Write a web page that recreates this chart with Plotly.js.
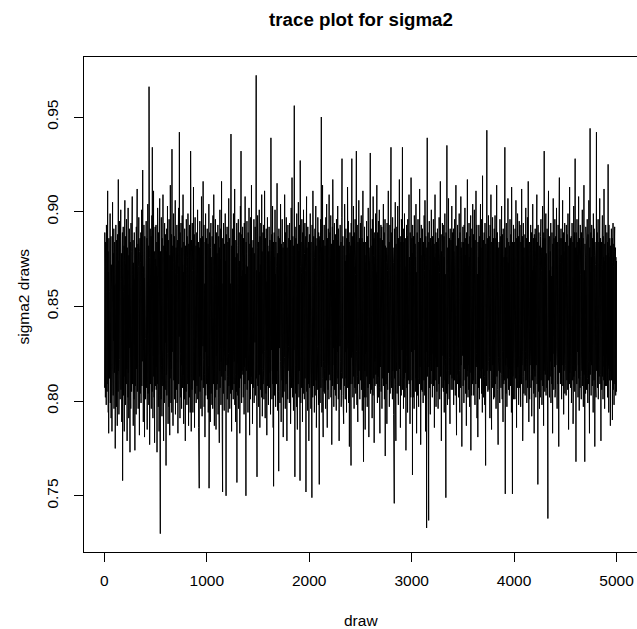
<!DOCTYPE html>
<html>
<head>
<meta charset="utf-8">
<script src="https://cdn.plot.ly/plotly-3.0.1.min.js"></script>
<style>
  html, body { margin: 0; padding: 0; background: #fff; }
  #chart { width: 637px; height: 629px; }
</style>
</head>
<body>
<div id="chart"></div>
<script>
// Posterior draws of sigma2, kept every 2nd iteration (25 values = 50 draws per row)
const sigma2 = [
.807,.889,.823,.871,.802,.884,.836,.866,.798,.893,.819,.874,.805,.861,.832,.911,.809,.879,.794,.868,.783,.886,.821,.858,.812,
.876,.816,.899,.799,.864,.828,.887,.791,.872,.823,.859,.784,.882,.811,.905,.818,.866,.803,.878,.832,.891,.796,.861,.815,.884,
.831,.868,.775,.879,.808,.893,.826,.862,.797,.885,.814,.871,.787,.888,.829,.857,.805,.917,.816,.874,.793,.866,.822,.895,.808,
.869,.801,.884,.819,.901,.806,.863,.824,.878,.789,.871,.812,.889,.758,.866,.827,.892,.803,.858,.816,.882,.784,.874,.821,.906,
.813,.861,.798,.887,.825,.872,.809,.896,.817,.864,.779,.881,.833,.869,.802,.902,.815,.856,.791,.877,.828,.891,.807,.866,.773,
.884,.819,.871,.796,.894,.828,.862,.805,.879,.816,.908,.809,.867,.824,.885,.787,.873,.831,.859,.801,.889,.813,.876,.774,.864,
.808,.881,.822,.869,.793,.892,.817,.874,.832,.912,.805,.866,.819,.883,.796,.871,.828,.897,.812,.858,.782,.879,.826,.886,.804,
.873,.814,.889,.799,.862,.825,.901,.808,.877,.821,.868,.922,.816,.884,.789,.871,.827,.893,.802,.865,.781,.887,.818,.874,.833,
.801,.878,.822,.895,.807,.869,.829,.886,.785,.873,.816,.904,.804,.863,.825,.882,.798,.966,.814,.876,.777,.868,.823,.891,.809,
.862,.819,.887,.796,.874,.828,.898,.805,.934,.817,.869,.791,.884,.824,.911,.813,.866,.802,.879,.778,.857,.826,.892,.808,.875,
.818,.893,.806,.871,.831,.884,.773,.866,.809,.902,.822,.875,.797,.889,.816,.861,.784,.881,.827,.907,.803,.868,.730,.879,.824,
.872,.801,.897,.819,.864,.792,.886,.827,.876,.808,.909,.815,.867,.779,.882,.823,.871,.799,.894,.817,.858,.806,.888,.831,.865,
.766,.879,.814,.891,.803,.868,.825,.903,.809,.874,.788,.885,.819,.862,.797,.896,.828,.871,.782,.877,.812,.914,.821,.866,.799,
.876,.817,.888,.794,.933,.826,.869,.804,.882,.787,.873,.823,.899,.811,.864,.835,.887,.801,.878,.819,.906,.793,.868,.826,.881,
.806,.874,.828,.893,.799,.867,.816,.885,.783,.879,.821,.902,.809,.871,.834,.942,.813,.866,.791,.889,.825,.877,.802,.894,.817,
.863,.796,.881,.819,.898,.807,.872,.826,.909,.814,.868,.788,.884,.822,.875,.801,.891,.816,.861,.779,.882,.829,.869,.805,.896,
.812,.871,.798,.887,.824,.876,.809,.899,.817,.864,.787,.883,.828,.871,.802,.893,.815,.868,.794,.879,.932,.821,.873,.784,.885,
.827,.879,.806,.894,.816,.869,.794,.885,.823,.913,.811,.872,.829,.888,.786,.866,.818,.897,.804,.876,.825,.882,.799,.868,.833,
.889,.808,.876,.822,.901,.801,.867,.816,.884,.786,.873,.827,.754,.881,.813,.895,.805,.869,.824,.886,.796,.877,.819,.908,.811,
.864,.792,.887,.818,.874,.829,.916,.807,.869,.822,.893,.797,.878,.814,.862,.781,.884,.826,.899,.803,.871,.817,.886,.809,.875,
.816,.891,.801,.868,.825,.883,.794,.877,.819,.904,.754,.872,.808,.889,.827,.866,.789,.881,.813,.894,.804,.876,.831,.863,.798,
.887,.814,.871,.796,.898,.823,.864,.809,.909,.817,.875,.787,.883,.828,.869,.802,.896,.819,.872,.785,.861,.824,.889,.806,.878,
.809,.866,.819,.893,.793,.879,.826,.887,.802,.872,.778,.881,.816,.901,.807,.868,.828,.891,.798,.875,.821,.916,.813,.862,.792,
.879,.752,.886,.817,.869,.804,.894,.823,.871,.795,.883,.828,.862,.811,.899,.816,.874,.831,.750,.888,.807,.867,.819,.892,.801,
.868,.813,.884,.794,.876,.825,.907,.808,.871,.819,.886,.796,.879,.827,.862,.804,.893,.941,.816,.874,.784,.882,.823,.869,.806,
.891,.818,.873,.801,.899,.826,.864,.809,.887,.821,.912,.798,.876,.814,.868,.789,.885,.829,.871,.805,.894,.757,.878,.819,.866,
.803,.882,.817,.896,.796,.871,.828,.889,.807,.874,.783,.868,.821,.903,.812,.879,.932,.824,.866,.799,.888,.816,.873,.831,.892,
.814,.869,.802,.886,.825,.877,.793,.894,.818,.872,.809,.908,.823,.867,.792,.750,.884,.816,.878,.829,.895,.806,.871,.821,.863,
.794,.889,.811,.874,.827,.902,.805,.869,.782,.883,.819,.876,.801,.897,.824,.866,.813,.914,.809,.872,.826,.881,.788,.868,.817,
.885,.807,.871,.822,.896,.799,.878,.816,.864,.831,.892,.803,.875,.818,.887,.972,.812,.869,.797,.760,.881,.825,.898,.808,.873,
.819,.884,.797,.876,.829,.901,.814,.868,.786,.887,.821,.872,.806,.894,.818,.863,.802,.909,.825,.879,.792,.871,.817,.889,.809,
.868,.816,.893,.801,.877,.826,.911,.812,.874,.791,.886,.821,.869,.804,.891,.818,.876,.782,.863,.827,.897,.808,.882,.823,.871,
.798,.879,.815,.892,.824,.866,.807,.885,.819,.874,.793,.896,.939,.813,.871,.827,.888,.801,.879,.816,.903,.809,.868,.786,.884,
.755,.873,.818,.889,.803,.876,.826,.901,.811,.867,.797,.884,.822,.871,.809,.894,.829,.915,.816,.878,.795,.866,.819,.887,.805,
.763,.891,.816,.872,.828,.886,.799,.879,.821,.904,.808,.868,.789,.883,.825,.874,.811,.896,.802,.869,.826,.881,.781,.877,.819,
.884,.805,.872,.823,.909,.814,.868,.796,.889,.827,.876,.809,.897,.818,.863,.779,.881,.822,.874,.801,.893,.816,.871,.829,.886,
.811,.867,.799,.894,.821,.878,.813,.885,.788,.873,.826,.902,.807,.876,.819,.918,.824,.869,.802,.887,.816,.871,.795,.882,.827,
.873,.956,.808,.881,.760,.892,.819,.868,.804,.886,.823,.877,.797,.899,.814,.866,.785,.883,.826,.874,.809,.905,.818,.869,.802,
.879,.816,.893,.827,.758,.927,.811,.871,.799,.884,.822,.868,.807,.896,.817,.875,.789,.889,.825,.872,.804,.901,.813,.866,.828,
.801,.878,.821,.894,.812,.869,.828,.887,.752,.874,.816,.908,.805,.881,.823,.867,.795,.892,.819,.876,.809,.884,.779,.871,.826,
.888,.807,.873,.824,.899,.813,.868,.796,.884,.819,.876,.828,.749,.893,.815,.871,.802,.911,.821,.866,.808,.887,.826,.874,.794,
.876,.819,.891,.803,.869,.827,.903,.811,.882,.786,.874,.822,.886,.806,.867,.829,.897,.816,.878,.798,.889,.814,.871,.756,.884,
.813,.887,.799,.874,.826,.896,.807,.869,.950,.818,.881,.794,.873,.824,.914,.812,.868,.781,.885,.821,.876,.805,.893,.817,.866,
.804,.882,.819,.871,.796,.897,.823,.876,.811,.904,.816,.868,.786,.886,.828,.872,.806,.891,.819,.879,.801,.909,.814,.867,.825,
.889,.811,.874,.826,.898,.802,.869,.817,.883,.777,.876,.821,.892,.808,.917,.816,.871,.828,.885,.797,.878,.819,.894,.806,.863,
.817,.879,.803,.888,.824,.871,.795,.896,.819,.876,.809,.885,.826,.903,.812,.868,.801,.891,.823,.874,.779,.882,.816,.869,.829,
.893,.806,.876,.821,.884,.797,.869,.815,.897,.928,.812,.873,.826,.887,.803,.879,.819,.788,.882,.824,.871,.808,.904,.817,.868,
.801,.874,.826,.891,.812,.877,.794,.886,.821,.869,.807,.913,.816,.872,.828,.895,.799,.878,.822,.884,.776,.867,.815,.889,.809,
.882,.817,.871,.766,.894,.823,.876,.928,.809,.868,.826,.887,.802,.879,.819,.903,.813,.871,.796,.889,.825,.874,.807,.896,.818,
.867,.804,.888,.819,.932,.826,.874,.798,.893,.813,.869,.789,.884,.822,.877,.809,.906,.816,.871,.828,.886,.801,.879,.817,.894,
.811,.876,.823,.898,.806,.871,.819,.886,.795,.879,.827,.911,.814,.868,.768,.884,.821,.873,.802,.892,.816,.877,.785,.869,.825,
.884,.802,.873,.826,.895,.813,.869,.797,.887,.821,.878,.807,.902,.818,.866,.781,.881,.824,.874,.809,.893,.816,.931,.804,.876,
.819,.891,.806,.874,.828,.882,.791,.896,.817,.869,.803,.908,.825,.877,.812,.886,.778,.872,.821,.889,.808,.876,.823,.899,.814,
.868,.809,.883,.821,.914,.816,.872,.799,.889,.826,.877,.813,.895,.802,.869,.824,.901,.807,.878,.783,.886,.818,.871,.828,.893,
.805,.879,.818,.892,.796,.874,.827,.885,.812,.869,.821,.904,.808,.876,.824,.889,.801,.871,.816,.896,.771,.882,.823,.867,.809,
.881,.813,.873,.788,.894,.822,.869,.806,.887,.819,.911,.815,.876,.828,.884,.797,.872,.818,.893,.804,.879,.826,.866,.934,.811,
.874,.807,.889,.824,.868,.801,.897,.816,.881,.827,.873,.793,.886,.819,.746,.891,.812,.876,.823,.905,.809,.869,.779,.883,.821,
.869,.816,.892,.804,.878,.825,.903,.811,.874,.798,.886,.822,.871,.808,.917,.817,.879,.826,.887,.786,.873,.819,.884,.803,.896,
.813,.881,.827,.869,.934,.806,.876,.819,.891,.796,.873,.824,.884,.812,.899,.802,.871,.828,.886,.815,.868,.774,.879,.821,.893,
.807,.872,.819,.887,.794,.896,.825,.869,.811,.884,.823,.909,.809,.876,.828,.866,.788,.889,.816,.874,.802,.918,.818,.871,.826,
.886,.811,.878,.761,.893,.824,.869,.802,.887,.819,.874,.796,.898,.816,.871,.827,.883,.805,.876,.821,.904,.812,.868,.783,.879,
.816,.889,.803,.874,.828,.896,.812,.869,.797,.884,.823,.877,.809,.912,.818,.871,.826,.886,.777,.879,.814,.893,.806,.868,.829,
.877,.805,.891,.821,.866,.799,.884,.827,.873,.811,.898,.816,.869,.803,.906,.824,.876,.784,.887,.819,.872,.808,.733,.881,.826,
.939,.813,.876,.824,.889,.801,.871,.737,.884,.818,.895,.807,.869,.826,.878,.793,.886,.821,.873,.809,.901,.816,.867,.828,.882,
.802,.887,.816,.873,.825,.896,.808,.868,.819,.883,.786,.876,.823,.909,.811,.871,.827,.889,.797,.878,.818,.884,.805,.866,.822,
.891,.818,.874,.796,.886,.826,.871,.809,.897,.817,.868,.801,.883,.824,.916,.813,.876,.828,.888,.779,.879,.816,.871,.807,.894,
.813,.878,.824,.893,.805,.871,.819,.887,.794,.876,.826,.899,.811,.867,.822,.884,.749,.889,.816,.872,.804,.935,.821,.869,.798,
.881,.809,.872,.826,.907,.816,.869,.801,.886,.823,.878,.788,.891,.814,.874,.829,.885,.806,.871,.819,.903,.812,.867,.824,.889,
.806,.874,.821,.891,.798,.879,.827,.868,.811,.896,.818,.873,.803,.887,.825,.914,.816,.869,.782,.882,.823,.876,.809,.893,.819,
.877,.814,.886,.802,.871,.828,.899,.816,.866,.794,.889,.821,.874,.807,.908,.819,.881,.826,.868,.776,.884,.812,.876,.824,.892,
.808,.872,.823,.884,.799,.893,.817,.868,.826,.902,.811,.877,.804,.886,.819,.871,.787,.889,.825,.874,.813,.917,.816,.866,.802,
.883,.819,.871,.806,.894,.824,.876,.797,.887,.815,.869,.828,.898,.774,.881,.817,.872,.803,.891,.821,.866,.809,.904,.826,.874,
.811,.888,.803,.876,.827,.901,.814,.869,.798,.885,.822,.874,.809,.911,.818,.871,.825,.893,.791,.879,.816,.867,.781,.884,.823,
.876,.807,.893,.821,.869,.801,.887,.816,.873,.828,.904,.812,.881,.824,.866,.804,.896,.819,.878,.794,.919,.817,.871,.826,.885,
.802,.874,.826,.889,.813,.871,.798,.894,.819,.877,.766,.883,.824,.869,.808,.891,.943,.816,.873,.827,.886,.805,.879,.818,.898,
.821,.868,.806,.887,.823,.876,.791,.893,.816,.872,.828,.909,.811,.866,.785,.884,.822,.874,.807,.897,.819,.871,.826,.886,.801,
.879,.814,.891,.802,.874,.827,.898,.809,.869,.821,.886,.796,.877,.818,.914,.813,.871,.825,.889,.806,.876,.777,.881,.823,.867,
.816,.884,.821,.873,.799,.896,.815,.871,.828,.887,.807,.877,.822,.903,.814,.869,.801,.888,.826,.874,.789,.891,.818,.866,.809,
.876,.811,.889,.826,.934,.816,.751,.881,.819,.871,.804,.894,.823,.876,.797,.886,.828,.869,.812,.907,.818,.873,.806,.884,.821,
.869,.803,.882,.817,.896,.824,.874,.808,.888,.819,.871,.794,.913,.816,.878,.827,.751,.884,.813,.869,.826,.893,.801,.876,.818,
.884,.819,.873,.801,.891,.827,.868,.812,.906,.816,.877,.786,.886,.823,.871,.807,.899,.818,.874,.828,.887,.798,.869,.814,.895,
.807,.876,.824,.893,.816,.869,.797,.884,.821,.878,.809,.912,.819,.871,.826,.887,.779,.876,.813,.894,.823,.868,.804,.881,.827,
.873,.816,.888,.803,.879,.826,.902,.811,.869,.822,.886,.799,.874,.818,.897,.807,.871,.825,.916,.816,.877,.789,.884,.821,.866,
.801,.884,.819,.871,.828,.893,.807,.876,.814,.889,.792,.879,.823,.869,.811,.904,.817,.874,.826,.886,.804,.871,.783,.888,.816,
.879,.813,.891,.824,.868,.802,.886,.819,.874,.827,.909,.809,.871,.816,.884,.756,.893,.821,.876,.805,.889,.818,.866,.796,.882,
.817,.874,.802,.887,.826,.896,.811,.869,.823,.881,.798,.877,.819,.903,.808,.886,.825,.872,.787,.889,.816,.932,.821,.876,.805,
.886,.814,.871,.826,.899,.803,.878,.819,.868,.807,.891,.823,.874,.796,.738,.884,.817,.911,.811,.872,.828,.887,.802,.869,.824,
.813,.879,.821,.894,.799,.876,.827,.866,.809,.889,.816,.871,.783,.883,.825,.907,.812,.869,.806,.886,.823,.874,.818,.896,.802,
.871,.806,.887,.819,.874,.828,.902,.813,.869,.796,.884,.821,.876,.809,.893,.817,.868,.776,.881,.824,.918,.815,.872,.826,.886,
.809,.873,.824,.891,.812,.877,.801,.886,.819,.871,.826,.906,.808,.874,.822,.889,.793,.879,.816,.868,.827,.894,.804,.876,.819,
.884,.816,.869,.803,.893,.821,.876,.811,.888,.827,.871,.806,.899,.818,.866,.785,.882,.824,.874,.809,.913,.815,.871,.828,.886,
.807,.876,.823,.887,.799,.873,.816,.894,.824,.869,.811,.884,.788,.878,.819,.903,.813,.871,.826,.889,.805,.877,.928,.816,.866,
.881,.768,.889,.821,.874,.809,.896,.817,.871,.826,.884,.802,.877,.819,.908,.812,.869,.795,.886,.823,.873,.807,.893,.818,.867,
.813,.874,.801,.889,.826,.878,.816,.901,.808,.871,.822,.886,.797,.879,.819,.914,.814,.869,.828,.768,.883,.821,.876,.804,.892,
.871,.817,.884,.806,.877,.824,.896,.812,.869,.799,.888,.821,.873,.809,.906,.816,.871,.783,.881,.826,.944,.814,.868,.821,.889,
.803,.876,.819,.893,.826,.871,.808,.886,.816,.874,.794,.899,.823,.868,.811,.891,.818,.877,.776,.884,.825,.872,.807,.903,.802,
.879,.942,.816,.874,.823,.889,.807,.871,.826,.896,.801,.877,.818,.884,.813,.869,.828,.907,.809,.873,.822,.886,.814,.779,.871,
.819,.884,.806,.872,.827,.898,.813,.869,.801,.887,.824,.876,.811,.912,.818,.874,.796,.883,.821,.869,.808,.893,.826,.877,.816,
.873,.808,.889,.824,.871,.802,.884,.817,.925,.826,.878,.794,.893,.819,.869,.811,.886,.823,.876,.787,.882,.816,.867,.828,.891,
.811,.877,.825,.886,.790,.873,.819,.894,.806,.871,.828,.883,.798,.879,.816,.892,.809,.868,.824,.881,.803,.876,.818,.805,.874
];

// iteration number of each kept draw
const thin = 2;
const draws = sigma2.map((_, i) => (i + 1) * thin);

const xTickVals = [0, 1000, 2000, 3000, 4000, 5000];
const xTickText = ['0', '1000', '2000', '3000', '4000', '5000'];
const yTickVals = [0.75, 0.80, 0.85, 0.90, 0.95];
const yTickText = ['0.75', '0.80', '0.85', '0.90', '0.95'];

const chartTitle = 'trace plot for sigma2';
const xLabel = 'draw';
const yLabel = 'sigma2 draws';

// padded axis ranges, 4% beyond the data on each side
function padded(lo, hi) {
  const d = (hi - lo) * 0.04;
  return [lo - d, hi + d];
}
const xRange = padded(1, 5000);
const yRange = padded(Math.min(...sigma2), Math.max(...sigma2));

const fontFamily = '"Liberation Sans", Arial, Helvetica, sans-serif';
const textFont = { family: fontFamily, size: 15.5, color: '#000000' };

const trace = {
  type: 'scatter',
  mode: 'lines',
  x: draws,
  y: sigma2,
  line: { color: '#000000', width: 1 },
  hoverinfo: 'x+y'
};

const layout = {
  width: 637,
  height: 629,
  margin: { l: 84, r: 0, t: 57, b: 77, pad: 0 },
  paper_bgcolor: '#ffffff',
  plot_bgcolor: '#ffffff',
  font: textFont,
  showlegend: false,
  title: {
    text: '<b>' + chartTitle + '</b>',
    font: { family: fontFamily, size: 18.7, color: '#000000' },
    xref: 'container', x: 361 / 637, xanchor: 'center',
    yref: 'container', y: 1 - 19 / 629, yanchor: 'middle'
  },
  xaxis: {
    range: xRange,
    showgrid: false, zeroline: false,
    showline: true, mirror: true, linecolor: '#000000', linewidth: 1,
    ticks: 'outside', ticklen: 9, tickwidth: 1, tickcolor: '#000000',
    tickvals: xTickVals, ticktext: xTickText,
    tickfont: textFont, ticklabelstandoff: 5,
    automargin: false
  },
  yaxis: {
    range: yRange,
    showgrid: false, zeroline: false,
    showline: true, mirror: false, linecolor: '#000000', linewidth: 1,
    ticks: 'outside', ticklen: 9, tickwidth: 1, tickcolor: '#000000',
    tickvals: yTickVals, ticktext: yTickText, tickangle: -90,
    tickfont: textFont, ticklabelstandoff: 10,
    automargin: false
  },
  annotations: [
    { text: xLabel, xref: 'paper', yref: 'paper', x: 0.5, y: (552 - 620) / 495,
      xanchor: 'center', yanchor: 'middle', showarrow: false, font: textFont },
    { text: yLabel, xref: 'paper', yref: 'paper', x: (22.5 - 84) / 553, y: (552 - 297) / 495,
      xanchor: 'center', yanchor: 'middle', textangle: -90, showarrow: false, font: textFont }
  ]
};

Plotly.newPlot('chart', [trace], layout, { staticPlot: true, displayModeBar: false });
</script>
</body>
</html>
